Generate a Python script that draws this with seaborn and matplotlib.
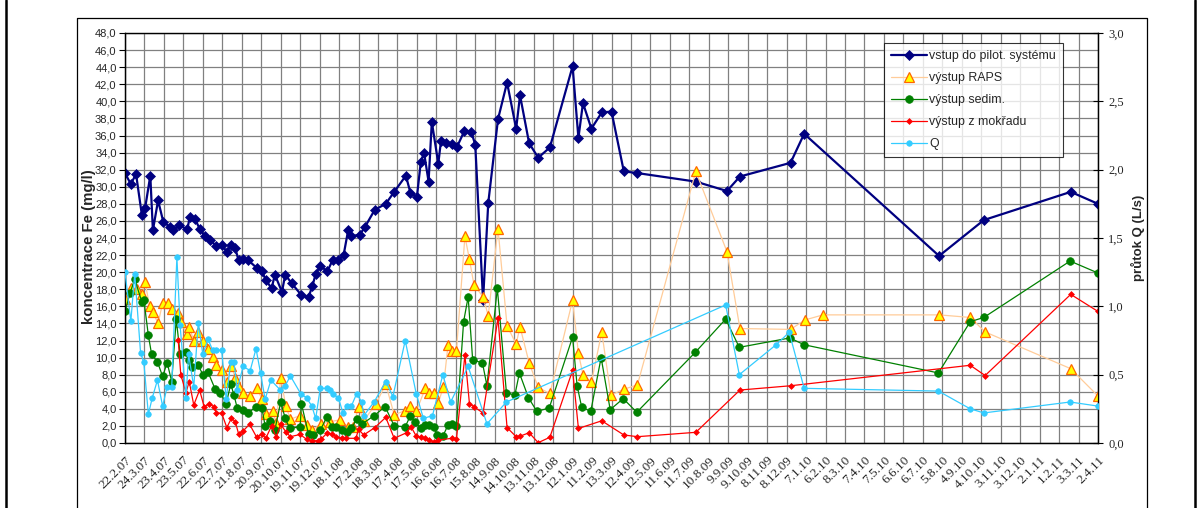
import datetime as dt
import pandas as pd
import matplotlib
matplotlib.use("Agg")
import matplotlib.pyplot as plt
import seaborn as sns
from matplotlib.lines import Line2D

# Sampling dates are stored as days since the first sampling (22.2.2007)
start = pd.Timestamp("2007-02-22")

tick_labels = [
    "22.2.07", "24.3.07", "23.4.07", "23.5.07", "22.6.07", "22.7.07", "21.8.07",
    "20.9.07", "20.10.07", "19.11.07", "19.12.07", "18.1.08", "17.2.08", "18.3.08",
    "17.4.08", "17.5.08", "16.6.08", "16.7.08", "15.8.08", "14.9.08", "14.10.08",
    "13.11.08", "13.12.08", "12.1.09", "11.2.09", "13.3.09", "12.4.09", "12.5.09",
    "11.6.09", "11.7.09", "10.8.09", "9.9.09", "9.10.09", "8.11.09", "8.12.09",
    "7.1.10", "6.2.10", "8.3.10", "7.4.10", "7.5.10", "6.6.10", "6.7.10", "5.8.10",
    "4.9.10", "4.10.10", "3.11.10", "3.12.10", "2.1.11", "1.2.11", "3.3.11", "2.4.11",
]

# vstup do pilot. systému
inflow_days = [0, 9, 17, 26, 31, 39, 43, 51, 59, 69, 74, 84, 96, 100, 108, 115, 123,
               131, 140, 149, 157, 164, 170, 175, 182, 190, 203, 211, 217, 226, 231,
               242, 247, 257, 272, 283, 289, 294, 301, 312, 320, 329, 337, 344, 349,
               362, 370, 385, 402, 415, 433, 440, 450, 456, 461, 468, 473, 483, 487,
               495, 504, 512, 523, 534, 540, 552, 560, 575, 589, 603, 609, 623, 637,
               655, 690, 699, 706, 719, 735, 750, 769, 790, 880, 928, 948, 1026, 1047,
               1255, 1324, 1458, 1500]
inflow_fe = [31.6, 30.3, 31.5, 26.7, 27.5, 31.3, 24.9, 28.4, 25.9, 25.3, 24.9, 25.5,
             25.0, 26.5, 26.2, 25.1, 24.2, 23.8, 23.1, 23.2, 22.4, 23.2, 22.8, 21.4,
             21.6, 21.4, 20.5, 20.1, 19.1, 18.1, 19.7, 17.7, 19.7, 18.7, 17.3, 17.1,
             18.4, 19.8, 20.7, 20.1, 21.4, 21.4, 22.0, 24.9, 24.2, 24.4, 25.3, 27.3,
             28.0, 29.4, 31.3, 29.3, 28.8, 32.9, 34.0, 30.6, 37.6, 32.7, 35.3, 35.1,
             35.0, 34.7, 36.5, 36.4, 34.9, 16.7, 28.1, 37.9, 42.2, 36.8, 40.7, 35.1,
             33.4, 34.6, 44.1, 35.7, 39.8, 36.8, 38.7, 38.8, 31.8, 31.6, 30.6, 29.5,
             31.2, 32.8, 36.2, 21.9, 26.1, 29.4, 28.0]

# výstup RAPS
raps_days = [0, 10, 18, 26, 31, 38, 43, 51, 58, 67, 72, 82, 86, 95, 99, 106, 113, 121,
             128, 136, 141, 149, 157, 164, 170, 175, 182, 192, 203, 211, 217, 228, 233,
             240, 248, 255, 270, 280, 288, 302, 316, 331, 344, 352, 360, 368, 387, 402,
             415, 432, 440, 449, 463, 469, 476, 483, 491, 498, 504, 511, 524, 531, 538,
             552, 560, 575, 589, 603, 609, 623, 637, 655, 690, 699, 706, 719, 735, 749,
             769, 790, 880, 928, 948, 1026, 1048, 1076, 1255, 1303, 1326, 1458, 1500]
raps_fe = [16.9, 18.2, 18.0, 17.5, 18.8, 16.0, 15.3, 14.0, 16.4, 16.4, 15.7, 15.2, 14.2,
           12.8, 13.6, 12.0, 13.0, 12.0, 11.0, 10.1, 9.1, 8.5, 7.2, 9.0, 7.6, 6.6, 5.9,
           5.5, 6.4, 5.2, 3.4, 3.7, 2.3, 7.6, 4.3, 2.8, 3.2, 2.1, 1.5, 2.2, 2.5, 2.7, 1.9,
           1.9, 4.25, 2.6, 4.6, 6.9, 3.3, 3.8, 4.3, 3.7, 6.4, 5.8, 5.8, 4.7, 6.6, 11.5,
           10.8, 10.8, 24.2, 21.5, 18.5, 17.1, 14.9, 25.1, 13.7, 11.6, 13.6, 9.4, 6.5,
           5.8, 16.7, 10.5, 8.0, 7.1, 13.0, 5.6, 6.3, 6.8, 31.8, 22.4, 13.4, 13.3, 14.4,
           15.0, 15.0, 14.7, 13.0, 8.7, 5.5]

# výstup sedim.
sedim_days = [0, 8, 15, 26, 29, 36, 41, 50, 58, 65, 72, 79, 85, 94, 98, 104, 113, 120,
              128, 139, 147, 156, 163, 168, 173, 182, 190, 202, 211, 216, 224, 231, 240,
              247, 254, 270, 272, 283, 290, 301, 311, 319, 326, 334, 342, 349, 357, 365,
              384, 401, 415, 432, 440, 447, 456, 463, 469, 476, 481, 490, 498, 504, 511,
              522, 529, 536, 551, 558, 574, 588, 601, 608, 622, 635, 654, 690, 697, 704,
              718, 734, 748, 768, 789, 879, 926, 947, 1025, 1047, 1254, 1303, 1324, 1457,
              1500]
sedim_fe = [15.4, 17.6, 19.2, 16.5, 16.8, 12.6, 10.4, 9.5, 7.8, 9.4, 7.2, 14.5, 10.4,
            10.6, 9.7, 8.9, 9.1, 8.0, 8.3, 6.3, 5.9, 4.6, 6.9, 5.6, 4.1, 3.9, 3.5, 4.25,
            4.1, 2.0, 2.6, 1.5, 4.8, 2.9, 1.7, 1.9, 4.6, 1.0, 0.9, 1.5, 3.0, 1.9, 1.9, 1.5,
            1.3, 1.7, 2.8, 2.2, 3.2, 4.25, 2.0, 1.9, 3.2, 2.5, 1.7, 2.1, 2.1, 1.9, 0.9, 0.8,
            2.1, 2.2, 2.0, 14.2, 17.1, 9.7, 9.4, 6.7, 18.1, 5.9, 5.6, 8.2, 5.3, 3.7, 4.1,
            12.4, 6.7, 4.2, 3.7, 10.0, 3.9, 5.2, 3.6, 10.6, 14.5, 11.2, 12.3, 11.5, 8.2,
            14.2, 14.7, 21.3, 19.9]

# výstup z mokřadu
wetland_days = [82, 86, 94, 99, 106, 115, 122, 130, 137, 141, 149, 157, 164, 170, 175,
                182, 192, 203, 211, 217, 226, 233, 240, 248, 255, 270, 280, 288, 297,
                302, 312, 319, 326, 334, 341, 356, 360, 368, 385, 402, 415, 434, 441,
                449, 456, 463, 469, 476, 483, 504, 511, 524, 531, 538, 552, 575, 589,
                603, 609, 623, 637, 655, 690, 699, 735, 769, 790, 880, 948, 1026, 1303,
                1326, 1458, 1500]
wetland_fe = [12.1, 8.0, 5.9, 7.2, 4.45, 6.2, 4.25, 4.6, 4.25, 3.5, 3.5, 1.8, 2.9, 2.5,
              1.1, 1.4, 2.2, 0.67, 1.05, 0.55, 2.0, 0.67, 2.2, 1.3, 0.74, 1.0, 0.43, 0.27,
              0.27, 0.43, 1.2, 1.05, 0.74, 0.55, 0.55, 0.55, 1.6, 0.94, 1.8, 3.0, 0.55,
              1.2, 1.9, 0.8, 0.67, 0.55, 0.35, 0.15, 0.35, 0.55, 0.43, 10.3, 4.6, 4.25,
              3.5, 14.6, 1.8, 0.74, 0.8, 1.2, 0.04, 0.67, 8.5, 1.7, 2.6, 0.94, 0.74, 1.25,
              6.2, 6.7, 9.1, 7.9, 17.4, 15.4]

# průtok Q (L/s)
flow_days = [0, 9, 15, 24, 29, 36, 42, 50, 58, 65, 72, 80, 85, 94, 98, 106, 113, 120,
             128, 135, 140, 149, 156, 163, 168, 173, 182, 193, 202, 209, 216, 225, 239,
             247, 255, 271, 280, 288, 294, 301, 311, 316, 321, 329, 336, 342, 349, 357,
             365, 368, 384, 402, 413, 432, 449, 460, 474, 490, 502, 529, 558, 588, 926,
             947, 1004, 1024, 1047, 1254, 1303, 1324, 1457, 1500]
flow_q = [1.25, 0.89, 1.24, 0.66, 0.59, 0.21, 0.33, 0.46, 0.27, 0.41, 0.41, 1.36, 0.86,
          0.33, 0.65, 0.41, 0.88, 0.65, 0.76, 0.68, 0.68, 0.68, 0.32, 0.59, 0.59, 0.39,
          0.56, 0.53, 0.69, 0.51, 0.32, 0.46, 0.39, 0.42, 0.49, 0.36, 0.33, 0.27, 0.18,
          0.40, 0.40, 0.39, 0.36, 0.33, 0.22, 0.27, 0.27, 0.36, 0.30, 0.20, 0.30, 0.45,
          0.34, 0.75, 0.36, 0.18, 0.20, 0.50, 0.30, 0.56, 0.14, 0.30, 1.01, 0.50, 0.72,
          0.81, 0.40, 0.38, 0.25, 0.22, 0.30, 0.27]


def to_dates(days):
    return start + pd.to_timedelta(days, unit="D")


sns.set_theme(style="white")
plt.rcParams["font.family"] = ["Liberation Sans", "DejaVu Sans"]

W, H = 1203, 508
fig = plt.figure(figsize=(W / 100, H / 100), dpi=100)
fig.patch.set_facecolor("white")

# plot area in pixel coordinates
px_l, px_r, px_t, px_b = 125, 1098, 33, 443
ax = fig.add_axes([px_l / W, 1 - px_b / H, (px_r - px_l) / W, (px_b - px_t) / H])
ax2 = ax.twinx()

styles = {
    "vstup do pilot. systému": dict(color="#000080", lw=1.6, marker="D", ms=5.5,
                                    mfc="#000080", mec="#000080", mew=0.5),
    "výstup RAPS": dict(color="#FFCC99", lw=0.9, marker="^", ms=6.5,
                        mfc="#FFFF00", mec="#FF6600", mew=0.9),
    "výstup sedim.": dict(color="#008000", lw=0.9, marker="o", ms=5.5,
                          mfc="#008000", mec="#008000", mew=0.5),
    "výstup z mokřadu": dict(color="#FF0000", lw=0.9, marker="D", ms=3.0,
                             mfc="#FF0000", mec="#FF0000", mew=0.5),
    "Q": dict(color="#33CCFF", lw=0.9, marker="o", ms=4.0,
              mfc="#33CCFF", mec="#33CCFF", mew=0.5),
}

series = [
    ("vstup do pilot. systému", inflow_days, inflow_fe, ax),
    ("výstup RAPS", raps_days, raps_fe, ax),
    ("výstup sedim.", sedim_days, sedim_fe, ax),
    ("výstup z mokřadu", wetland_days, wetland_fe, ax),
    ("Q", flow_days, flow_q, ax2),
]

for z, (name, days, vals, target) in enumerate(series):
    st = styles[name]
    sns.lineplot(x=to_dates(days), y=vals, ax=target, estimator=None, sort=True,
                 color=st["color"], linewidth=st["lw"], marker=st["marker"],
                 markersize=st["ms"], markerfacecolor=st["mfc"],
                 markeredgecolor=st["mec"], markeredgewidth=st["mew"],
                 legend=False, zorder=3 + z)

tick_dates = [pd.Timestamp(dt.datetime.strptime(t, "%d.%m.%y")) for t in tick_labels]

ax.set_xlim(tick_dates[0], tick_dates[-1])
ax.set_ylim(0, 48)
ax2.set_ylim(0, 3.0)

ax.set_yticks([v * 2 for v in range(25)])
ax.set_yticklabels([f"{v * 2:.1f}".replace(".", ",") for v in range(25)], fontsize=8)
ax2.set_yticks([v * 0.5 for v in range(7)])
ax2.set_yticklabels([f"{v * 0.5:.1f}".replace(".", ",") for v in range(7)],
                    fontsize=9, family="Liberation Serif")
ax.set_xticks(tick_dates)
ax.set_xticklabels(tick_labels, rotation=45, ha="right", va="top",
                   rotation_mode="anchor", fontsize=9.5, family="Liberation Serif")

ax.grid(True, color="#808080", lw=0.9)
ax.set_axisbelow(True)
ax2.grid(False)

for a in (ax, ax2):
    for s in a.spines.values():
        s.set_color("black")
        s.set_linewidth(0.9)
ax.spines["top"].set_color("#404040")

ax.tick_params(axis="y", direction="out", length=4, width=0.8, color="black", pad=2)
ax.tick_params(axis="x", direction="out", length=5, width=0.8, color="black", pad=3)
ax2.tick_params(axis="y", direction="inout", length=7, width=0.8, color="black", pad=4)
ax.set_xlabel("")
ax.set_ylabel("koncentrace Fe (mg/l)", fontsize=10.8, fontweight="bold", labelpad=2)
ax.yaxis.set_label_coords(-0.030, 0.48)
ax2.set_ylabel("průtok Q (L/s)", fontsize=9.5, fontweight="bold", labelpad=5)

handles = []
for name in styles:
    st = styles[name]
    ms = st["ms"] * (0.85 if st["marker"] == "D" and st["ms"] > 4 else 1.0)
    handles.append(Line2D([], [], color=st["color"], lw=st["lw"], marker=st["marker"],
                          ms=ms, mfc=st["mfc"], mec=st["mec"], mew=st["mew"]))
leg = fig.legend(handles, list(styles), loc="upper left",
                 bbox_to_anchor=(884 / W, 1 - 43 / H), frameon=True, fancybox=False,
                 fontsize=8.9, handlelength=2.9, labelspacing=0.8, borderpad=0.6,
                 handletextpad=0.15, borderaxespad=0)
leg.get_frame().set_edgecolor("black")
leg.get_frame().set_linewidth(0.8)
leg.set_zorder(20)

# chart area frame and surrounding rules
fig.add_artist(Line2D([77 / W, 77 / W, 1147 / W, 1147 / W],
                      [0, 1 - 18 / H, 1 - 18 / H, 0], color="black", lw=0.9))
fig.add_artist(Line2D([6 / W, 6 / W], [0, 1], color="black", lw=1.8))
fig.add_artist(Line2D([1195 / W, 1195 / W], [0, 1], color="black", lw=1.8))

fig.savefig("out.png", dpi=100, facecolor="white")
